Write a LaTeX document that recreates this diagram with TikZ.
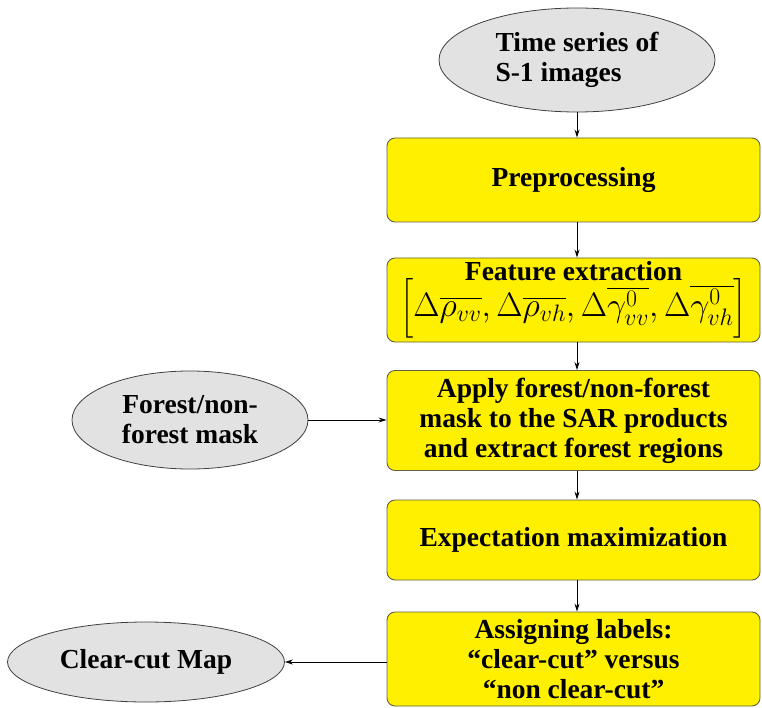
\RequirePackage{fix-cm}
\documentclass[tikz,border=0pt]{standalone}
\usepackage{exscale}
\usepackage[no-math]{fontspec}
\setmainfont{Liberation Serif}
\usetikzlibrary{shapes.geometric,arrows.meta}
\tikzset{
  box/.style={draw=black!70!yellow, line width=0.9pt, fill=boxyellow, rounded corners=8pt,
    minimum width=373pt, align=center, inner sep=0pt},
  oval/.style={ellipse, draw=black!75, line width=0.8pt, fill=ovalgray, inner sep=0pt},
  arr/.style={-{Stealth[length=8pt,width=5pt]}, line width=0.9pt, black},
  txt/.style={font=\fontsize{27.5}{30}\selectfont\bfseries}
}
\definecolor{boxyellow}{RGB}{255,240,0}
\definecolor{ovalgray}{RGB}{226,226,226}
\begin{document}
\begin{tikzpicture}[x=1pt,y=-1pt]
\useasboundingbox (0,0) rectangle (762,708);
\node[oval, minimum width=276pt, minimum height=104pt, txt, align=left] (ts) at (577,60) {Time series of\\S-1 images};
\node[box, minimum height=84pt, txt] (pre) at (573.5,180) {Preprocessing};
\node[box, minimum height=84pt, txt] (feat) at (573.5,300) {Feature extraction\\[-4pt]
  \fontsize{34}{36}\selectfont\mdseries$\Big[\Delta\overline{\rho_{vv}},\Delta\overline{\rho_{vh}},\Delta\overline{\gamma^0_{vv}},\Delta\overline{\gamma^0_{vh}}\Big]$};
\node[box, minimum height=100pt, txt] (apply) at (573.5,420.5) {Apply forest/non-forest\\mask to the SAR products\\and extract forest regions};
\node[box, minimum height=80pt, txt] (em) at (573.5,540) {Expectation maximization};
\node[box, minimum height=94pt, txt] (assign) at (573.5,659) {Assigning labels:\\“clear-cut” versus\\“non clear-cut”};
\node[oval, minimum width=236pt, minimum height=98pt, txt, align=center] (mask) at (190,420) {Forest/non-\\forest mask};
\node[oval, minimum width=277pt, minimum height=80pt, txt] (ccm) at (146,662) {Clear-cut Map};
\draw[arr] (ts.south) -- (ts.south |- pre.north);
\draw[arr] (pre.south -| ts.south) -- (feat.north -| ts.south);
\draw[arr] (feat.south -| ts.south) -- (apply.north -| ts.south);
\draw[arr] (apply.south -| ts.south) -- (em.north -| ts.south);
\draw[arr] (em.south -| ts.south) -- (assign.north -| ts.south);
\draw[arr] (mask.east) -- (mask.east -| apply.west);
\draw[arr] (assign.west |- ccm.east) -- (ccm.east);
\end{tikzpicture}
\end{document}
